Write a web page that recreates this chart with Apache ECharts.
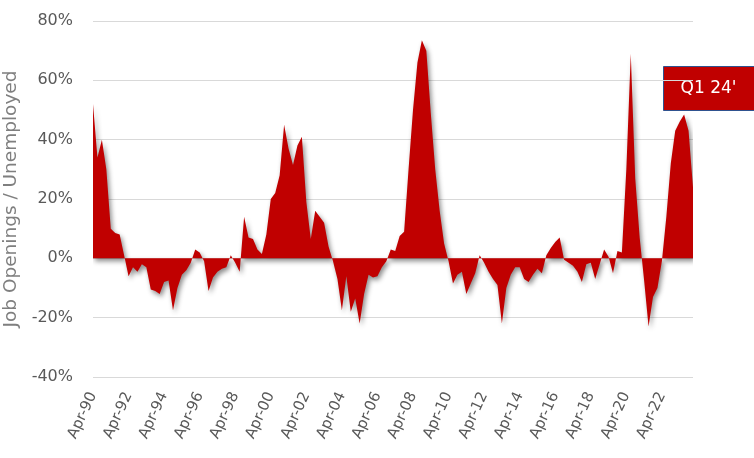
<!DOCTYPE html>
<html>
<head>
<meta charset="utf-8">
<script src="https://cdn.jsdelivr.net/npm/echarts@6/dist/echarts.min.js"></script>
<style>
html,body{margin:0;padding:0;background:#fff;}
#chart{width:754px;height:458px;}
</style>
</head>
<body>
<div id="chart"></div>
<script>
// Quarterly values, Job Openings / Unemployed (% change), Apr-90 .. Jan-24
const ratio1990s = [52,34,40,30,10,8.5,8,1,-6,-3,-4.5,-2,-3,-10.5,-11,-12,-8,-7.5,-17.5,-10,-5.5,-4,-1.5,3,2,-1,-11,-6.5,-4.5,-3.5,-3,1,-1.5,-4.5,14,7,6.5,3,1.5];
const ratio2000s = [8,20,22,28,45,37,31.5,38,41,19,6.5,16,14,12,4,-1,-7,-17.5,-6,-18,-13.5,-22,-12,-5.5,-6.5,-6,-3,-1,3,2.5,7.5,9,30,50,66,73.5,70,49,30,16];
const ratio2010s = [5,-1,-8.5,-5.5,-4.5,-12,-8.5,-5,1,-1.5,-4.5,-7,-9,-22,-10,-5.5,-3,-3,-7,-8,-5.5,-3.5,-5,1,3.5,5.5,7,-0.5,-1.5,-2.5,-4.5,-8,-2,-1.5,-7,-2,3,0.5,-5,2.5];
const ratio2020s = [2,30,69,27,7,-7.5,-23,-13,-10,-1,14,32,43,46,48.5,43,24];
const values = ratio1990s.concat(ratio2000s, ratio2010s, ratio2020s);

const monthNames = ['Jan','Apr','Jul','Oct'];
const startYear = 1990, startQuarter = 1; // Apr-90
const categories = values.map((_, i) => {
  const k = startQuarter + i;
  const y = startYear + Math.floor(k / 4);
  return monthNames[k % 4] + '-' + String(y % 100).padStart(2, '0');
});
const yTicks = {min: -40, max: 80, step: 20};
const yAxisTitle = 'Job Openings / Unemployed';
const annotationText = "Q1 24'";

const chart = echarts.init(document.getElementById('chart'));
chart.setOption({
  animation: false,
  textStyle: {fontFamily: 'DejaVu Sans'},
  grid: {left: 93, right: 61, top: 21, bottom: 81, containLabel: false, outerBoundsMode: 'none'},
  xAxis: {
    type: 'category',
    data: categories,
    boundaryGap: false,
    axisLine: {show: false, onZero: false},
    axisTick: {show: false},
    axisLabel: {
      interval: 7,
      rotate: 65,
      margin: 16,
      fontSize: 15,
      color: '#595959',
      fontFamily: 'DejaVu Sans'
    },
    splitLine: {show: false}
  },
  yAxis: {
    type: 'value',
    min: yTicks.min,
    max: yTicks.max,
    interval: yTicks.step,
    name: yAxisTitle,
    nameLocation: 'middle',
    nameGap: 61,
    nameTextStyle: {fontSize: 18.5, color: '#7f7f7f', fontFamily: 'DejaVu Sans'},
    axisLine: {show: false},
    axisTick: {show: false},
    axisLabel: {
      formatter: '{value}%',
      margin: 20,
      fontSize: 16,
      color: '#595959',
      fontFamily: 'DejaVu Sans'
    },
    splitLine: {lineStyle: {color: '#d9d9d9', width: 1}}
  },
  series: [{
    type: 'line',
    data: values,
    symbol: 'none',
    lineStyle: {width: 0},
    areaStyle: {
      color: '#C00000',
      opacity: 1,
      shadowColor: 'rgba(0,0,0,0.45)',
      shadowBlur: 5,
      shadowOffsetX: 2,
      shadowOffsetY: 3
    }
  }],
  graphic: [{
    type: 'group',
    left: 663,
    top: 66,
    children: [{
      type: 'rect',
      shape: {x: 0, y: 0, width: 92, height: 44},
      style: {fill: '#C00000', stroke: '#2F528F', lineWidth: 1}
    }, {
      type: 'text',
      x: 45,
      y: 22,
      style: {
        text: annotationText,
        fill: '#ffffff',
        fontSize: 17,
        fontFamily: 'DejaVu Sans',
        align: 'center',
        verticalAlign: 'middle'
      }
    }]
  }]
});
</script>
</body>
</html>
